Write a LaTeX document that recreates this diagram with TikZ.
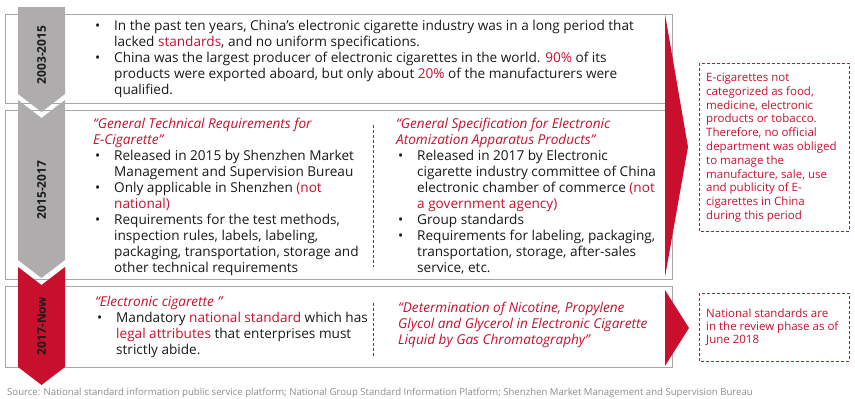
\documentclass[tikz,border=0pt]{standalone}
\usepackage{fontspec}
\setmainfont{Open Sans}
\usetikzlibrary{calc}
\definecolor{ered}{HTML}{C8102E}
\definecolor{cgrey}{HTML}{AEACAC}
\definecolor{bgrey}{HTML}{A6A6A6}
\definecolor{ctext}{HTML}{1A1A1A}
\definecolor{csrc}{HTML}{8C8C8C}
\newcommand\mybul{\makebox[19pt][l]{•}}
\newcommand\myind{\hspace*{19pt}}
\newcommand\myred[1]{\textcolor{ered}{#1}}
\newcommand\mytitle[1]{{\itshape\color{ered}#1}}
\begin{document}
\begin{tikzpicture}[x=1pt,y=-1pt,
  panel/.style={draw=bgrey,line width=0.9pt,fill=white},
  chev/.style={fill=cgrey},
  chevred/.style={fill=ered},
  redtri/.style={fill=ered},
  dbox/.style={draw=ered,dashed,dash pattern=on 3pt off 2pt,line width=0.8pt},
  divider/.style={draw=ered,dashed,dash pattern=on 3pt off 2pt,line width=0.7pt},
  txt/.style={anchor=base west,inner sep=0pt,text=ctext,font=\fontsize{13.6}{16}\selectfont},
  boxtxt/.style={anchor=base west,inner sep=0pt,text=ered,font=\fontsize{11.5}{13.8}\selectfont},
  period/.style={rotate=90,inner sep=0pt,text=ctext,font=\fontsize{12}{14}\selectfont\bfseries},
  src/.style={anchor=base west,inner sep=0pt,text=csrc,font=\fontsize{9.6}{11}\selectfont}
]
\useasboundingbox (0,0) rectangle (855,399);
% panels
\path[panel] (5,14) rectangle (672,103);
\path[panel] (5,110) rectangle (672,279);
\path[panel] (5,286) rectangle (672,367);
% chevrons
\path[chev] (18,7) -- (65,7) -- (65,94) -- (41.5,112) -- (18,94) -- cycle;
\path[chev] (18,100) -- (41.5,118) -- (65,100) -- (65,260) -- (41.5,278) -- (18,260) -- cycle;
\path[chevred] (18,267) -- (41.5,285) -- (65,267) -- (65,367) -- (41.5,385) -- (18,367) -- cycle;
\node[period] (c1) at (41.5,55) {2003-2015};
\node[period] (c2) at (41.5,190) {2015-2017};
\node[period] (c3) at (41.5,326) {2017-Now};
% red arrows
\path[redtri] (665,14) -- (688,147) -- (665,277) -- cycle;
\path[redtri] (665,290) -- (689,328) -- (665,366) -- cycle;
% dashed boxes
\path[dbox] (699,63) rectangle (849,231);
\path[dbox] (699,293) rectangle (849,361);
% dividers
\path[divider] (373,125) -- (373,267);
\path[divider] (373,303) -- (373,356);
% panel 1 text
\node[txt] (p1) at (95,30) {\begin{tabular}[t]{@{}l@{}}
\mybul In the past ten years, China's electronic cigarette industry was in a long period that\\
\myind lacked \myred{standards}, and no uniform specifications.\\
\mybul China was the largest producer of electronic cigarettes in the world. \myred{90\%} of its\\
\myind products were exported aboard, but only about \myred{20\%} of the manufacturers were\\
\myind qualified.
\end{tabular}};
% panel 2 left
\node[txt] (p2l) at (95,128) {\begin{tabular}[t]{@{}l@{}}
\hspace*{-2pt}\mytitle{“General Technical Requirements for}\\
\hspace*{-2pt}\mytitle{E-Cigarette”}\\
\mybul Released in 2015 by Shenzhen Market\\
\myind Management and Supervision Bureau\\
\mybul Only applicable in Shenzhen \myred{(not}\\
\myind \myred{national)}\\
\mybul Requirements for the test methods,\\
\myind inspection rules, labels, labeling,\\
\myind packaging, transportation, storage and\\
\myind other technical requirements
\end{tabular}};
% panel 2 right
\node[txt] (p2r) at (398,128) {\begin{tabular}[t]{@{}l@{}}
\hspace*{-2pt}\mytitle{“General Specification for Electronic}\\
\hspace*{-2pt}\mytitle{Atomization Apparatus Products”}\\
\mybul Released in 2017 by Electronic\\
\myind cigarette industry committee of China\\
\myind electronic chamber of commerce \myred{(not}\\
\myind \myred{a government agency)}\\
\mybul Group standards\\
\mybul Requirements for labeling, packaging,\\
\myind transportation, storage, after-sales\\
\myind service, etc.
\end{tabular}};
% panel 3 left
\node[txt] (p3l) at (97,306) {\begin{tabular}[t]{@{}l@{}}
\hspace*{-2pt}\mytitle{“Electronic cigarette ”}\\
\mybul Mandatory \myred{national standard} which has\\
\myind \myred{legal attributes} that enterprises must\\
\myind strictly abide.
\end{tabular}};
% panel 3 right
\node[txt] (p3r) at (398,312) {\begin{tabular}[t]{@{}l@{}}
\mytitle{“Determination of Nicotine, Propylene}\\
\mytitle{Glycol and Glycerol in Electronic Cigarette}\\
\mytitle{Liquid by Gas Chromatography”}
\end{tabular}};
% box texts
\node[boxtxt] (ba) at (706,81.5) {\begin{tabular}[t]{@{}l@{}}
E-cigarettes not\\
categorized as food,\\
medicine, electronic\\
products or tobacco.\\
Therefore, no official\\
department was obliged\\
to manage the\\
manufacture, sale, use\\
and publicity of E-\\
cigarettes in China\\
during this period
\end{tabular}};
\node[boxtxt,font=\fontsize{11.5}{13.4}\selectfont] (bb) at (706,317) {\begin{tabular}[t]{@{}l@{}}
National standards are\\
in the review phase as of\\
June 2018
\end{tabular}};
% source
\node[src] (source) at (7,395.5) {Source: National standard information public service platform; National Group Standard Information Platform; Shenzhen Market Management and Supervision Bureau};
\end{tikzpicture}
\end{document}
